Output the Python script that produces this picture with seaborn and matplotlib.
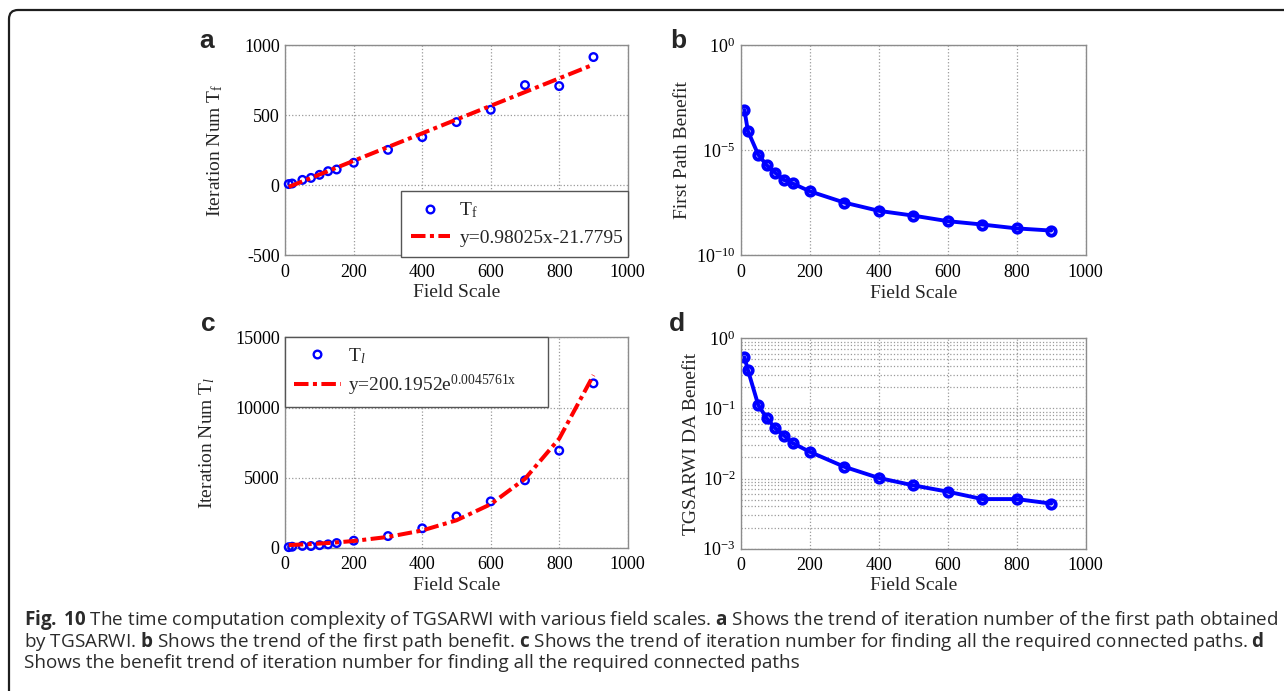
import numpy as np
import pandas as pd
import matplotlib
matplotlib.use("Agg")
import matplotlib.pyplot as plt
import seaborn as sns
from matplotlib.ticker import FixedLocator, FuncFormatter, LogLocator, NullFormatter
from matplotlib.patches import FancyBboxPatch
from matplotlib.lines import Line2D

# ---------------- data ----------------
field_scale = [10, 20, 50, 75, 100, 125, 150, 200, 300, 400, 500, 600, 700, 800, 900]

# (a) iteration number of the first path and its linear fit y=0.98025x-21.7795
iter_first = [8, 12, 38, 52, 74, 100, 112, 160, 252, 343, 450, 538, 714, 707, 914]
iter_first_fit = [-11.98, -2.17, 27.23, 51.74, 76.25, 100.75, 125.26, 174.27,
                  272.30, 370.32, 468.35, 566.37, 664.40, 762.42, 860.45]

# (b) first path benefit
first_benefit = [8.1e-4, 8.1e-5, 6.1e-6, 1.9e-6, 8.2e-7, 3.8e-7, 2.6e-7, 1.1e-7,
                 3.2e-8, 1.3e-8, 7.7e-9, 4.2e-9, 2.9e-9, 1.9e-9, 1.5e-9]

# (c) iteration number for all paths and its exponential fit y=200.1952e^(0.0045761x)
iter_all = [60, 90, 150, 140, 200, 260, 350, 520, 850, 1400, 2250, 3320, 4820, 6930, 11720]
iter_all_fit = [209.6, 219.4, 251.7, 282.2, 316.4, 354.7, 397.7, 500.0,
                790.1, 1248.5, 1973.1, 3117.9, 4927.3, 7786.5, 12305.0]

# (d) TGSARWI DA benefit
da_benefit = [0.535, 0.353, 0.112, 0.072, 0.052, 0.041, 0.032, 0.024,
              0.0147, 0.0102, 0.0080, 0.0065, 0.0051, 0.0051, 0.0044]

x_ticks = [0, 200, 400, 600, 800, 1000]
a_yticks = [-500, 0, 500, 1000]
b_yticks = [1e-10, 1e-5, 1e0]
c_yticks = [0, 5000, 10000, 15000]
d_yticks = [1e-3, 1e-2, 1e-1, 1e0]

label_a_legend = ["T$_\\mathregular{f}$", "y=0.98025x-21.7795"]
label_c_legend = ["T$_{\\it{l}}$", "y=200.1952e$^\\mathregular{0.0045761x}$"]

caption_lines = [
    r"$\mathbf{Fig.\ 10}$ The time computation complexity of TGSARWI with various field scales. "
    r"$\mathbf{a}$ Shows the trend of iteration number of the first path obtained",
    r"by TGSARWI. $\mathbf{b}$ Shows the trend of the first path benefit. $\mathbf{c}$ Shows the trend "
    r"of iteration number for finding all the required connected paths. $\mathbf{d}$",
    r"Shows the benefit trend of iteration number for finding all the required connected paths",
]

# ---------------- style ----------------
sns.set_theme(style="white")
plt.rcParams["font.family"] = ["Liberation Serif", "DejaVu Serif"]
plt.rcParams["mathtext.fontset"] = "custom"
plt.rcParams["mathtext.rm"] = "Liberation Serif"
plt.rcParams["mathtext.it"] = "Liberation Serif:italic"
plt.rcParams["mathtext.bf"] = "Open Sans:bold"
plt.rcParams["axes.unicode_minus"] = False

W, H = 1284, 691
fig = plt.figure(figsize=(W / 100, H / 100), dpi=100)
fig.patch.set_facecolor("white")

def px_axes(left, top, right, bottom):
    return fig.add_axes([left / W, 1 - bottom / H, (right - left) / W, (bottom - top) / H])

ax_a = px_axes(285.3, 45.0, 627.7, 255.3)
ax_b = px_axes(741.0, 45.0, 1085.7, 255.3)
ax_c = px_axes(285.3, 337.3, 627.7, 548.0)
ax_d = px_axes(741.0, 338.3, 1085.7, 548.7)

TICK_FS = 13
LABEL_FS = 14
GRID_KW = dict(color="#9a9a9a", linestyle=":", linewidth=0.9)
DASHDOT = (3.6, 1.1, 1.0, 1.1)

def log_fmt(v, pos):
    e = int(round(np.log10(v)))
    return r"$\mathregular{10^{%d}}$" % e

def style_axes(ax):
    for s in ax.spines.values():
        s.set_color("#8c8c8c")
        s.set_linewidth(1.0)
    ax.set_xlim(0, 1000)
    ax.xaxis.set_major_locator(FixedLocator(x_ticks))
    ax.tick_params(axis="both", which="both", direction="in", length=0,
                   labelsize=TICK_FS, colors="black")
    ax.tick_params(axis="x", pad=6)
    ax.tick_params(axis="y", pad=4)
    ax.grid(True, which="major", **GRID_KW)
    ax.set_axisbelow(True)
    ax.set_xlabel("Field Scale", fontsize=LABEL_FS)

h_pt = Line2D([], [], linestyle="none", marker="o", markersize=5.5, markeredgewidth=1.7,
              markerfacecolor="none", markeredgecolor="blue")
h_ln = Line2D([], [], color="red", linewidth=2.9, dashes=DASHDOT)

# ---------------- (a) ----------------
df_a = pd.DataFrame({"Field Scale": field_scale, "T": iter_first, "fit": iter_first_fit})
sns.scatterplot(data=df_a, x="Field Scale", y="T", ax=ax_a, marker="o", s=30, zorder=3)
pts = ax_a.collections[-1]
pts.set_facecolor("none"); pts.set_edgecolor("blue"); pts.set_linewidth(1.7)
pts.set_clip_on(False)
sns.lineplot(data=df_a, x="Field Scale", y="fit", ax=ax_a, color="red", linewidth=2.9,
             errorbar=None, zorder=4)
ax_a.lines[-1].set_dashes(DASHDOT)
style_axes(ax_a)
ax_a.set_ylim(-500, 1000)
ax_a.yaxis.set_major_locator(FixedLocator(a_yticks))
ax_a.set_ylabel("Iteration Num T$_\\mathregular{f}$", fontsize=LABEL_FS)
leg = ax_a.legend([h_pt, h_ln], label_a_legend, loc="upper left",
                  bbox_to_anchor=(1 - 226.7 / 342.4, 64.3 / 210.3, 226.7 / 342.4, 0.0),
                  mode="expand", borderaxespad=0, fontsize=14, fancybox=False, framealpha=1,
                  edgecolor="#555555", handlelength=2.0, handletextpad=0.5,
                  borderpad=0.5, labelspacing=0.45)
leg.get_frame().set_linewidth(1.0)

# ---------------- (b) ----------------
df_b = pd.DataFrame({"Field Scale": field_scale, "B": first_benefit})
sns.lineplot(data=df_b, x="Field Scale", y="B", ax=ax_b, color="blue", linewidth=2.8,
             marker="o", markersize=6, markeredgewidth=2.8, markerfacecolor="none",
             markeredgecolor="blue", errorbar=None)
ax_b.set_yscale("log")
style_axes(ax_b)
ax_b.set_ylim(1e-10, 1)
ax_b.yaxis.set_major_locator(FixedLocator(b_yticks))
ax_b.yaxis.set_major_formatter(FuncFormatter(log_fmt))
ax_b.yaxis.set_minor_locator(FixedLocator([]))
ax_b.set_ylabel("First Path Benefit", fontsize=LABEL_FS)

# ---------------- (c) ----------------
df_c = pd.DataFrame({"Field Scale": field_scale, "T": iter_all, "fit": iter_all_fit})
sns.scatterplot(data=df_c, x="Field Scale", y="T", ax=ax_c, marker="o", s=30, zorder=3)
pts = ax_c.collections[-1]
pts.set_facecolor("none"); pts.set_edgecolor("blue"); pts.set_linewidth(1.7)
pts.set_clip_on(False)
sns.lineplot(data=df_c, x="Field Scale", y="fit", ax=ax_c, color="red", linewidth=2.9,
             errorbar=None, zorder=4)
ax_c.lines[-1].set_dashes(DASHDOT)
style_axes(ax_c)
ax_c.set_ylim(0, 15000)
ax_c.yaxis.set_major_locator(FixedLocator(c_yticks))
ax_c.set_ylabel("Iteration Num T$_{\\it{l}}$", fontsize=LABEL_FS)
leg = ax_c.legend([h_pt, h_ln], label_c_legend, loc="upper left",
                  bbox_to_anchor=(0, 1, 262.5 / 342.4, 0.0), mode="expand",
                  borderaxespad=0, fontsize=14, fancybox=False, framealpha=1,
                  edgecolor="#555555", handlelength=2.4, handletextpad=0.35,
                  borderpad=0.45, labelspacing=0.35)
leg.get_frame().set_linewidth(1.0)

# ---------------- (d) ----------------
df_d = pd.DataFrame({"Field Scale": field_scale, "B": da_benefit})
sns.lineplot(data=df_d, x="Field Scale", y="B", ax=ax_d, color="blue", linewidth=2.8,
             marker="o", markersize=6, markeredgewidth=2.8, markerfacecolor="none",
             markeredgecolor="blue", errorbar=None)
ax_d.set_yscale("log")
style_axes(ax_d)
ax_d.set_ylim(1e-3, 1)
ax_d.yaxis.set_major_locator(FixedLocator(d_yticks))
ax_d.yaxis.set_major_formatter(FuncFormatter(log_fmt))
ax_d.yaxis.set_minor_locator(LogLocator(base=10, subs=np.arange(2, 10)))
ax_d.yaxis.set_minor_formatter(NullFormatter())
ax_d.grid(True, which="minor", axis="y", **GRID_KW)
ax_d.set_ylabel("TGSARWI DA Benefit", fontsize=LABEL_FS)

# label positions (pixel targets converted to axes fractions)
def place_labels(ax, left, top, right, bottom, ylab_x, xlab_y):
    ax.yaxis.label.set_va("center")
    ax.xaxis.label.set_va("center")
    ax.yaxis.set_label_coords((ylab_x - left) / (right - left), 0.5)
    ax.xaxis.set_label_coords(0.5, -(xlab_y - bottom) / (bottom - top))

place_labels(ax_a, 285.3, 45.0, 627.7, 255.3, 215.0, 292.7)
place_labels(ax_b, 741.0, 45.0, 1085.7, 255.3, 682.5, 293.3)
place_labels(ax_c, 285.3, 337.3, 627.7, 548.0, 206.7, 585.0)
place_labels(ax_d, 741.0, 338.3, 1085.7, 548.7, 691.0, 586.0)

# panel letters
for lbl, (px, py) in zip("abcd", [(207, 41), (678, 41), (208, 324), (677, 324)]):
    fig.text(px / W, 1 - py / H, lbl, fontsize=19, fontweight="bold",
             family=["Liberation Sans", "DejaVu Sans"], ha="center", va="center")

# caption
for i, line in enumerate(caption_lines):
    fig.text(24 / W, 1 - (620 + 21.5 * i) / H, line, fontsize=13.6,
             family=["Open Sans", "DejaVu Sans"], color="#2b2b2b", ha="left", va="center")

# rounded border (extends beyond right and bottom edges)
border = FancyBboxPatch((9, -30), 1320, H - 10 + 30,
                        boxstyle="round,pad=0,rounding_size=9",
                        transform=None, fill=False, edgecolor="#1e1e1e", linewidth=1.6)
fig.patches.append(border)

fig.savefig("out.png", dpi=100)
